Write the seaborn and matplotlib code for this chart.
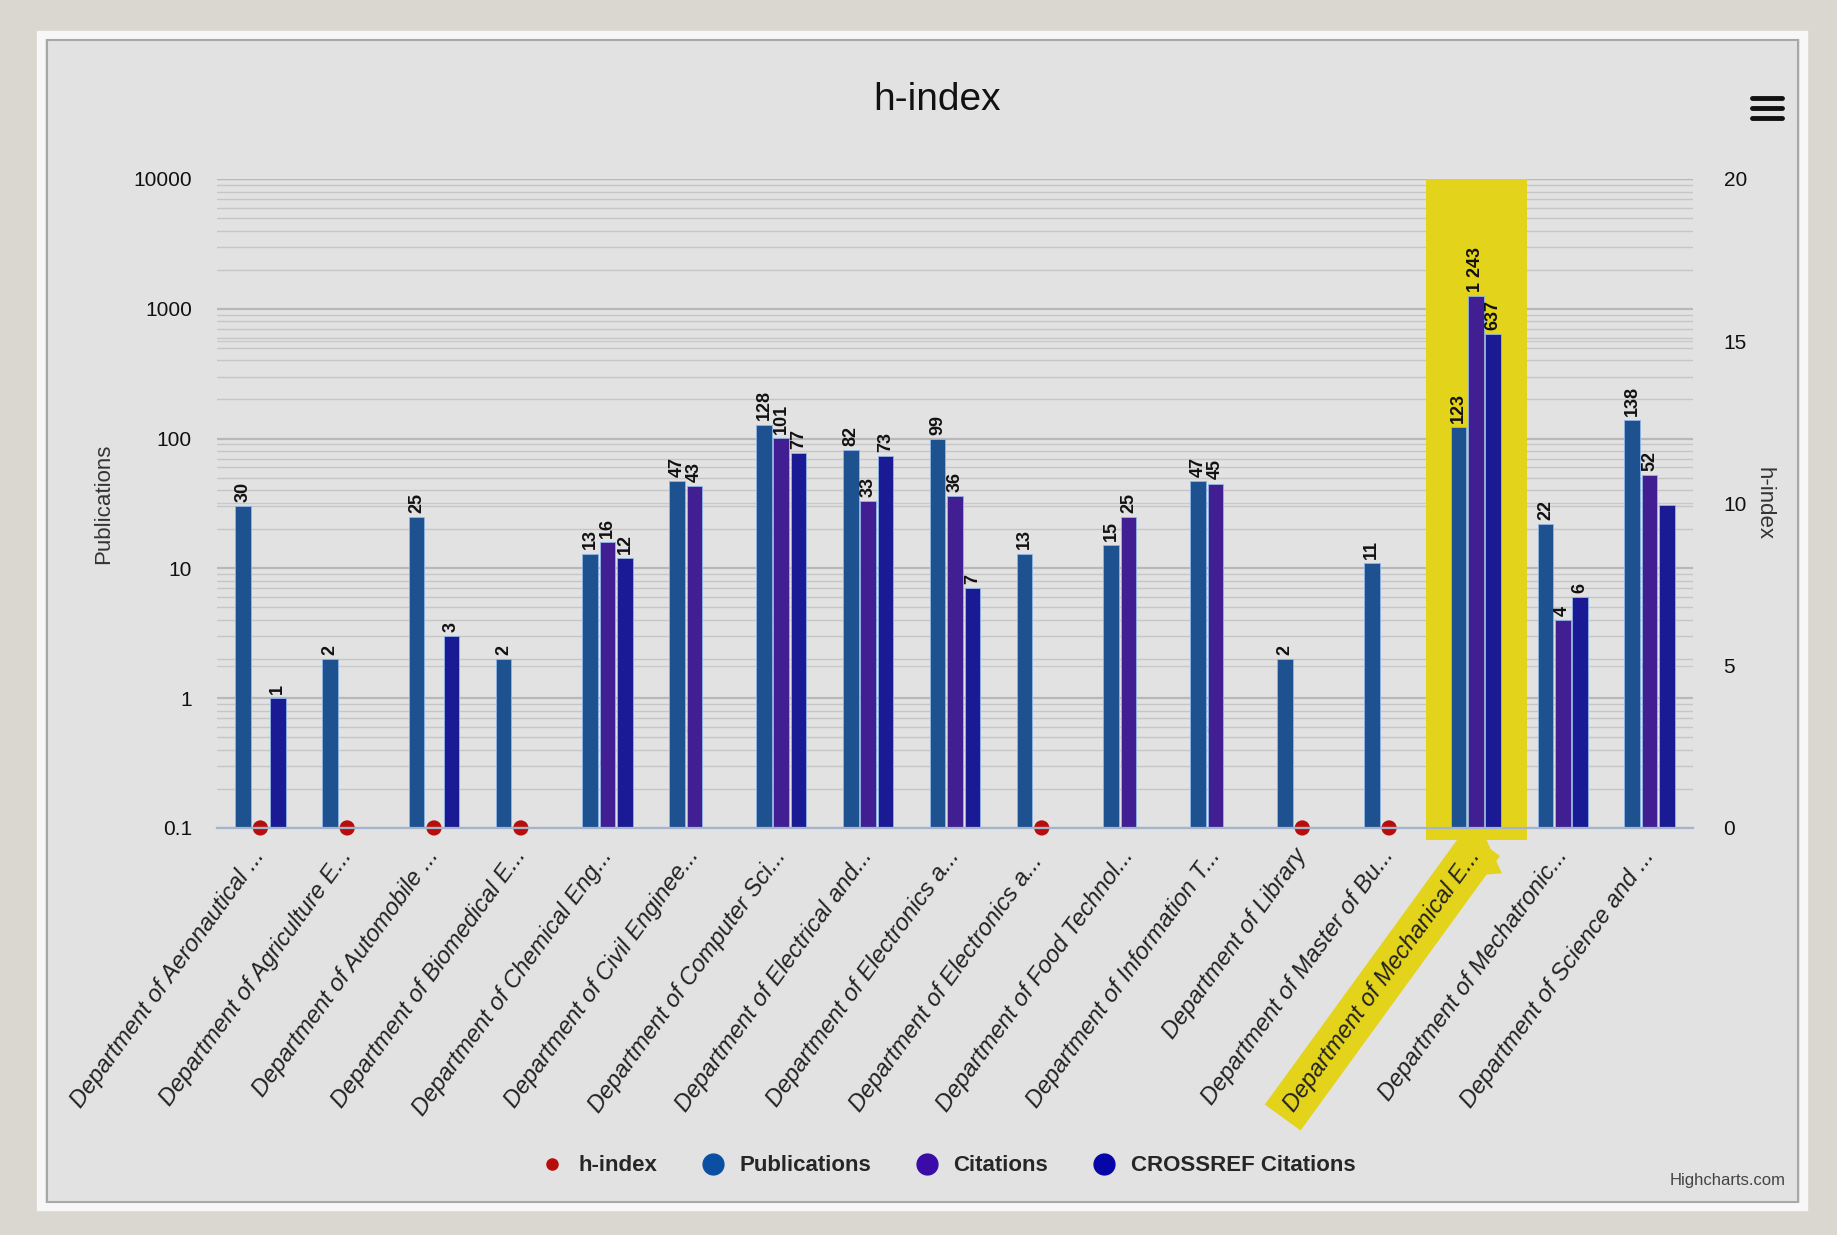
import numpy as np
import pandas as pd
import matplotlib.pyplot as plt
from matplotlib.patches import Rectangle, Polygon
from matplotlib.lines import Line2D
import seaborn as sns

departments = [
    "Department of Aeronautical ...", "Department of Agriculture E...",
    "Department of Automobile ...", "Department of Biomedical E...",
    "Department of Chemical Eng...", "Department of Civil Enginee...",
    "Department of Computer Sci...", "Department of Electrical and...",
    "Department of Electronics a...", "Department of Electronics a... ",
    "Department of Food Technol...", "Department of Information T...",
    "Department of Library", "Department of Master of Bu...",
    "Department of Mechanical E...", "Department of Mechatronic...",
    "Department of Science and ...",
]
publications = [30, 2, 25, 2, 13, 47, 128, 82, 99, 13, 15, 47, 2, 11, 123, 22, 138]
citations = [np.nan, np.nan, np.nan, np.nan, 16, 43, 101, 33, 36, np.nan, 25, 45,
             np.nan, np.nan, 1243, 4, 52]
crossref = [1, np.nan, 3, np.nan, 12, np.nan, 77, 73, 7, np.nan, np.nan, np.nan,
            np.nan, np.nan, 637, 6, 31]
# h-index: zeros are visible; the others sit hidden behind the citation bars
h_index = [0, 0, 0, 0, 2, 3, 5, 4, 4, 0, 2, 3, 0, 0, 10, 1, 5]

series = ["Publications", "Citations", "CROSSREF Citations"]
colors = {"Publications": "#0b4fa3", "Citations": "#3a0ba6",
          "CROSSREF Citations": "#0606a8"}
h_color = "#b80d0d"
yellow = "#e4d31b"
highlight = 14

df = pd.DataFrame({
    "dept": departments * 3,
    "series": np.repeat(series, len(departments)),
    "value": publications + citations + crossref,
})

sns.set_style("white")
plt.rcParams["font.family"] = ["Liberation Sans Narrow", "Liberation Sans", "DejaVu Sans"]

fig = plt.figure(figsize=(18.37, 12.35), dpi=100, facecolor="#d9d7cf")
fig.patches.append(Rectangle((0.0223, 0.0227), 0.9597, 0.9490, transform=fig.transFigure,
                             facecolor="#e2e2e2", edgecolor="#f7f7f7", lw=6, zorder=-10))
fig.patches.append(Rectangle((0.0255, 0.0265), 0.9535, 0.9415, transform=fig.transFigure,
                             facecolor="none", edgecolor="#a8a8a8", lw=1.5, zorder=-9))

ax = fig.add_axes([0.1181, 0.3296, 0.8035, 0.5255])
axh = ax.twinx()
# bars drawn on top, h-index dots underneath them
ax.set_zorder(2)
axh.set_zorder(1)
ax.patch.set_visible(False)
axh.patch.set_visible(False)

sns.barplot(data=df, x="dept", y="value", hue="series", hue_order=series,
            palette=colors, width=0.6, gap=0.1, errorbar=None, legend=False,
            edgecolor="#8fb6e6", linewidth=0.6, ax=ax)
ax.set_yscale("log")
ax.set_ylim(0.1, 10000)
ax.set_xlim(-0.5, len(departments) - 0.5)
ax.set_yticks([0.1, 1, 10, 100, 1000, 10000])
ax.set_yticklabels(["0.1", "1", "10", "100", "1000", "10000"])
ax.grid(True, which="major", axis="y", color="#b8b8b8", lw=1.6)
ax.grid(True, which="minor", axis="y", color="#c6c6c6", lw=1.0)
ax.set_axisbelow(True)
ax.tick_params(axis="y", which="both", length=0, labelsize=15, pad=18, labelcolor="#111111")
ax.tick_params(axis="x", length=0, pad=17)
ax.set_xlabel("")
ax.set_ylabel("Publications", fontsize=16, labelpad=14, color="#333333")
for s in ["top", "left", "right"]:
    ax.spines[s].set_visible(False)
ax.spines["bottom"].set_color("#a3b4cc")
ax.spines["bottom"].set_linewidth(1.6)

def fmt(v):
    return f"{v:,.0f}".replace(",", " ")

for k, cont in enumerate(ax.containers):
    labels = []
    for bar in cont:
        idx = int(round(bar.get_x() + bar.get_width() / 2))
        if k == 2 and idx == len(departments) - 1:
            labels.append("")
        else:
            labels.append(fmt(bar.get_height()))
    ax.bar_label(cont, labels=labels, rotation=90, padding=3, fontsize=13,
                 fontweight="bold", color="#111111")

ax.add_patch(Rectangle((highlight - 0.57, -0.018), 1.16, 1.018,
                       transform=ax.get_xaxis_transform(), facecolor=yellow,
                       edgecolor="none", clip_on=False, zorder=0.8))
ax.add_patch(Polygon([(highlight - 0.12, -0.018), (highlight + 0.12, -0.018),
                      (highlight + 0.3, -0.07), (highlight - 0.2, -0.075)],
                     closed=True, transform=ax.get_xaxis_transform(),
                     facecolor=yellow, edgecolor="none", clip_on=False, zorder=0.4))

for i, tl in enumerate(ax.get_xticklabels()):
    tl.set_rotation(54)
    tl.set_ha("right")
    tl.set_va("center")
    tl.set_rotation_mode("anchor")
    tl.set_fontstyle("italic")
    tl.set_fontsize(17)
    tl.set_color("#222222")
    if i == highlight:
        tl.set_bbox(dict(boxstyle="square,pad=0.45", facecolor=yellow, edgecolor="none"))

sns.scatterplot(x=np.arange(len(departments)), y=h_index, color=h_color, s=120,
                edgecolor="none", clip_on=False, zorder=3, ax=axh, legend=False)
axh.set_ylim(0, 20)
axh.set_xlim(-0.5, len(departments) - 0.5)
axh.set_yticks([0, 5, 10, 15, 20])
axh.grid(True, axis="y", color="#c9c9c9", lw=1.0)
axh.tick_params(axis="y", length=0, labelsize=15, pad=22, labelcolor="#111111")
axh.set_ylabel("h-index", fontsize=16, rotation=270, labelpad=20, color="#333333")
for s in axh.spines.values():
    s.set_visible(False)

fig.text(0.51, 0.919, "h-index", ha="center", va="center", fontsize=28, color="#111111")

handles = [Line2D([], [], ls="none", marker="o", ms=8, color=h_color)]
handles += [Line2D([], [], ls="none", marker="o", ms=15, color=colors[s]) for s in series]
fig.legend(handles, ["h-index"] + series, loc="center", bbox_to_anchor=(0.513, 0.056),
           ncol=4, frameon=False, prop={"size": 16, "weight": "bold"},
           handletextpad=0.2, columnspacing=1.5)

for yy in [0.9206, 0.9126, 0.9045]:
    fig.add_artist(Line2D([0.954, 0.970], [yy, yy], transform=fig.transFigure,
                          color="#111111", lw=3.5))
fig.text(0.9405, 0.044, "Highcharts.com", ha="center", va="center", fontsize=12,
         color="#444444")

fig.savefig("out.png", dpi=100, facecolor=fig.get_facecolor())
